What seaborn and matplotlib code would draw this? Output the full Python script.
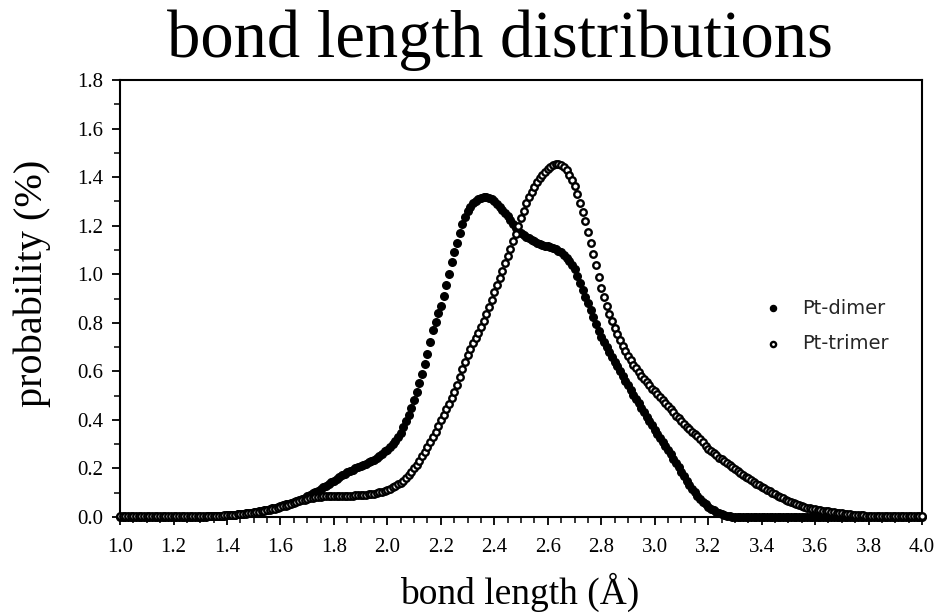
import numpy as np
import pandas as pd
import matplotlib
matplotlib.use("Agg")
import matplotlib.pyplot as plt
import seaborn as sns
from matplotlib.ticker import MultipleLocator, FormatStrFormatter

# Bond length sample grid (Angstrom), 1.00 ... 4.00 in 0.01 steps
bond_length = np.round(np.linspace(1.0, 4.0, 301), 2)

# Probability (%) for the Pt dimer, one row per 0.1 Angstrom
pt_dimer = [
    0.000, 0.000, 0.000, 0.000, 0.000, 0.000, 0.000, 0.000, 0.000, 0.000,  # 1.0x
    0.000, 0.000, 0.000, 0.000, 0.000, 0.000, 0.000, 0.000, 0.000, 0.000,  # 1.1x
    0.000, 0.000, 0.000, 0.000, 0.000, 0.000, 0.001, 0.001, 0.001, 0.001,  # 1.2x
    0.002, 0.002, 0.002, 0.003, 0.003, 0.004, 0.004, 0.005, 0.005, 0.006,  # 1.3x
    0.007, 0.008, 0.009, 0.010, 0.011, 0.012, 0.013, 0.015, 0.016, 0.018,  # 1.4x
    0.020, 0.022, 0.024, 0.026, 0.028, 0.030, 0.033, 0.036, 0.039, 0.042,  # 1.5x
    0.045, 0.048, 0.052, 0.055, 0.059, 0.062, 0.067, 0.071, 0.076, 0.080,  # 1.6x
    0.085, 0.091, 0.097, 0.103, 0.109, 0.115, 0.122, 0.129, 0.136, 0.143,  # 1.7x
    0.150, 0.157, 0.164, 0.171, 0.178, 0.185, 0.190, 0.195, 0.200, 0.205,  # 1.8x
    0.210, 0.215, 0.220, 0.225, 0.230, 0.235, 0.243, 0.252, 0.261, 0.270,  # 1.9x
    0.278, 0.288, 0.300, 0.314, 0.330, 0.348, 0.370, 0.395, 0.420, 0.450,  # 2.0x
    0.480, 0.515, 0.550, 0.590, 0.630, 0.670, 0.720, 0.770, 0.805, 0.840,  # 2.1x
    0.870, 0.910, 0.955, 1.000, 1.050, 1.090, 1.130, 1.170, 1.205, 1.235,  # 2.2x
    1.260, 1.278, 1.292, 1.303, 1.311, 1.316, 1.319, 1.318, 1.314, 1.308,  # 2.3x
    1.300, 1.290, 1.278, 1.265, 1.252, 1.238, 1.223, 1.208, 1.192, 1.180,  # 2.4x
    1.170, 1.162, 1.155, 1.148, 1.141, 1.135, 1.130, 1.126, 1.122, 1.118,  # 2.5x
    1.115, 1.112, 1.108, 1.103, 1.097, 1.090, 1.080, 1.068, 1.055, 1.040,  # 2.6x
    1.020, 0.993, 0.965, 0.937, 0.908, 0.880, 0.852, 0.823, 0.795, 0.767,  # 2.7x
    0.740, 0.720, 0.700, 0.680, 0.660, 0.640, 0.620, 0.600, 0.580, 0.561,  # 2.8x
    0.542, 0.523, 0.504, 0.486, 0.468, 0.450, 0.432, 0.414, 0.396, 0.378,  # 2.9x
    0.360, 0.343, 0.326, 0.309, 0.292, 0.275, 0.258, 0.241, 0.224, 0.207,  # 3.0x
    0.185, 0.167, 0.150, 0.133, 0.117, 0.102, 0.088, 0.075, 0.063, 0.052,  # 3.1x
    0.042, 0.034, 0.027, 0.021, 0.016, 0.012, 0.008, 0.005, 0.003, 0.002,  # 3.2x
    0.001, 0.001, 0.000, 0.000, 0.000, 0.000, 0.000, 0.000, 0.000, 0.000,  # 3.3x
    0.000, 0.000, 0.000, 0.000, 0.000, 0.000, 0.000, 0.000, 0.000, 0.000,  # 3.4x
    0.000, 0.000, 0.000, 0.000, 0.000, 0.000, 0.000, 0.000, 0.000, 0.000,  # 3.5x
    0.000, 0.000, 0.000, 0.000, 0.000, 0.000, 0.000, 0.000, 0.000, 0.000,  # 3.6x
    0.000, 0.000, 0.000, 0.000, 0.000, 0.000, 0.000, 0.000, 0.000, 0.000,  # 3.7x
    0.000, 0.000, 0.000, 0.000, 0.000, 0.000, 0.000, 0.000, 0.000, 0.000,  # 3.8x
    0.000, 0.000, 0.000, 0.000, 0.000, 0.000, 0.000, 0.000, 0.000, 0.000,  # 3.9x
    0.000,                                                                  # 4.00
]

# Probability (%) for the Pt trimer
pt_trimer = [
    0.003, 0.003, 0.003, 0.003, 0.003, 0.003, 0.003, 0.003, 0.003, 0.003,  # 1.0x
    0.003, 0.003, 0.003, 0.003, 0.003, 0.003, 0.003, 0.003, 0.003, 0.003,  # 1.1x
    0.003, 0.003, 0.003, 0.003, 0.003, 0.003, 0.003, 0.003, 0.003, 0.003,  # 1.2x
    0.003, 0.003, 0.004, 0.004, 0.004, 0.005, 0.005, 0.006, 0.006, 0.007,  # 1.3x
    0.008, 0.008, 0.009, 0.010, 0.011, 0.012, 0.013, 0.014, 0.015, 0.016,  # 1.4x
    0.018, 0.020, 0.022, 0.024, 0.026, 0.028, 0.030, 0.033, 0.035, 0.038,  # 1.5x
    0.040, 0.044, 0.047, 0.051, 0.054, 0.058, 0.062, 0.065, 0.069, 0.072,  # 1.6x
    0.075, 0.077, 0.079, 0.081, 0.083, 0.084, 0.085, 0.085, 0.085, 0.085,  # 1.7x
    0.085, 0.085, 0.086, 0.086, 0.087, 0.087, 0.088, 0.088, 0.089, 0.090,  # 1.8x
    0.090, 0.091, 0.092, 0.093, 0.094, 0.096, 0.098, 0.101, 0.104, 0.107,  # 1.9x
    0.112, 0.117, 0.122, 0.128, 0.134, 0.141, 0.150, 0.160, 0.172, 0.185,  # 2.0x
    0.200, 0.215, 0.232, 0.250, 0.268, 0.288, 0.308, 0.330, 0.352, 0.375,  # 2.1x
    0.398, 0.420, 0.443, 0.466, 0.489, 0.515, 0.545, 0.578, 0.610, 0.640,  # 2.2x
    0.668, 0.693, 0.716, 0.738, 0.760, 0.783, 0.808, 0.835, 0.865, 0.895,  # 2.3x
    0.925, 0.955, 0.985, 1.015, 1.045, 1.075, 1.105, 1.135, 1.165, 1.197,  # 2.4x
    1.230, 1.262, 1.292, 1.318, 1.340, 1.360, 1.378, 1.395, 1.410, 1.422,  # 2.5x
    1.432, 1.441, 1.448, 1.453, 1.455, 1.450, 1.442, 1.430, 1.410, 1.388,  # 2.6x
    1.362, 1.330, 1.295, 1.258, 1.220, 1.175, 1.130, 1.085, 1.040, 0.990,  # 2.7x
    0.945, 0.905, 0.868, 0.836, 0.806, 0.778, 0.752, 0.728, 0.706, 0.685,  # 2.8x
    0.665, 0.646, 0.628, 0.612, 0.597, 0.582, 0.568, 0.555, 0.542, 0.529,  # 2.9x
    0.517, 0.505, 0.493, 0.481, 0.469, 0.457, 0.444, 0.431, 0.418, 0.406,  # 3.0x
    0.394, 0.383, 0.372, 0.362, 0.352, 0.342, 0.334, 0.322, 0.308, 0.294,  # 3.1x
    0.281, 0.272, 0.263, 0.254, 0.245, 0.237, 0.229, 0.221, 0.214, 0.207,  # 3.2x
    0.199, 0.191, 0.182, 0.173, 0.166, 0.159, 0.152, 0.145, 0.138, 0.132,  # 3.3x
    0.125, 0.119, 0.112, 0.106, 0.099, 0.093, 0.088, 0.082, 0.077, 0.072,  # 3.4x
    0.067, 0.063, 0.058, 0.054, 0.049, 0.045, 0.042, 0.039, 0.036, 0.034,  # 3.5x
    0.032, 0.030, 0.028, 0.026, 0.025, 0.023, 0.021, 0.019, 0.018, 0.016,  # 3.6x
    0.015, 0.013, 0.012, 0.011, 0.010, 0.009, 0.008, 0.007, 0.007, 0.006,  # 3.7x
    0.006, 0.005, 0.005, 0.005, 0.004, 0.004, 0.004, 0.004, 0.003, 0.003,  # 3.8x
    0.003, 0.003, 0.003, 0.003, 0.003, 0.003, 0.003, 0.003, 0.003, 0.003,  # 3.9x
    0.003,                                                                  # 4.00
]

series_labels = ["Pt-dimer", "Pt-trimer"]
x_ticks = np.round(np.arange(1.0, 4.01, 0.2), 1)
y_ticks = np.round(np.arange(0.0, 1.81, 0.2), 1)

df = pd.DataFrame({
    "bond_length": np.concatenate([bond_length, bond_length]),
    "probability": np.concatenate([pt_dimer, pt_trimer]),
    "cluster": [series_labels[0]] * len(bond_length) + [series_labels[1]] * len(bond_length),
})

sns.set_theme(style="ticks")
plt.rcParams["font.family"] = ["Liberation Serif", "DejaVu Serif"]

fig = plt.figure(figsize=(9.43, 6.16), dpi=100)
ax = fig.add_axes([0.1273, 0.1607, 0.8505, 0.7094])

dimer = df[df["cluster"] == series_labels[0]]
trimer = df[df["cluster"] == series_labels[1]]

# filled dots for the dimer, hollow rings for the trimer drawn on top
sns.scatterplot(data=dimer, x="bond_length", y="probability", ax=ax,
                marker="o", s=30, color="black", edgecolor="black",
                linewidth=1.0, label=series_labels[0], clip_on=False, zorder=3)
sns.scatterplot(data=trimer, x="bond_length", y="probability", ax=ax,
                marker="o", s=22, color="white", edgecolor="black",
                linewidth=1.7, label=series_labels[1], clip_on=False, zorder=4)

ax.set_xlim(1.0, 4.0)
ax.set_ylim(0.0, 1.8)
ax.set_xticks(x_ticks)
ax.set_yticks(y_ticks)
ax.xaxis.set_minor_locator(MultipleLocator(0.05))
ax.yaxis.set_minor_locator(MultipleLocator(0.1))
ax.xaxis.set_major_formatter(FormatStrFormatter("%.1f"))
ax.yaxis.set_major_formatter(FormatStrFormatter("%.1f"))
ax.tick_params(axis="both", which="major", direction="out", length=6, width=1.3,
               color="black", labelsize=15, labelcolor="black")
ax.tick_params(axis="both", which="minor", direction="out", length=4, width=1.1,
               color="black")
ax.tick_params(axis="x", which="major", pad=9)
ax.tick_params(axis="y", which="major", pad=6)
for side in ["top", "right", "bottom", "left"]:
    ax.spines[side].set_visible(True)
    ax.spines[side].set_color("black")
    ax.spines[side].set_linewidth(1.5)
ax.set_xlabel("")
ax.set_ylabel("")

leg = ax.legend(loc="upper left", bbox_to_anchor=(0.802, 0.50), frameon=False,
                borderpad=0, borderaxespad=0, handlelength=1.0,
                handletextpad=1.0, labelspacing=0.85, markerscale=0.8,
                prop={"family": "DejaVu Sans", "size": 14})

fig.text(500 / 943, 1 - 57 / 616, "bond length distributions",
         ha="center", va="baseline", fontsize=48, color="black")
fig.text(520 / 943, 1 - 604 / 616, "bond length (Å)",
         ha="center", va="baseline", fontsize=27, color="black")
fig.text(32 / 943, 1 - 283 / 616, "probability (%)", rotation=90,
         ha="center", va="center", fontsize=29, color="black")

fig.savefig("out.png", dpi=100, facecolor="white")
